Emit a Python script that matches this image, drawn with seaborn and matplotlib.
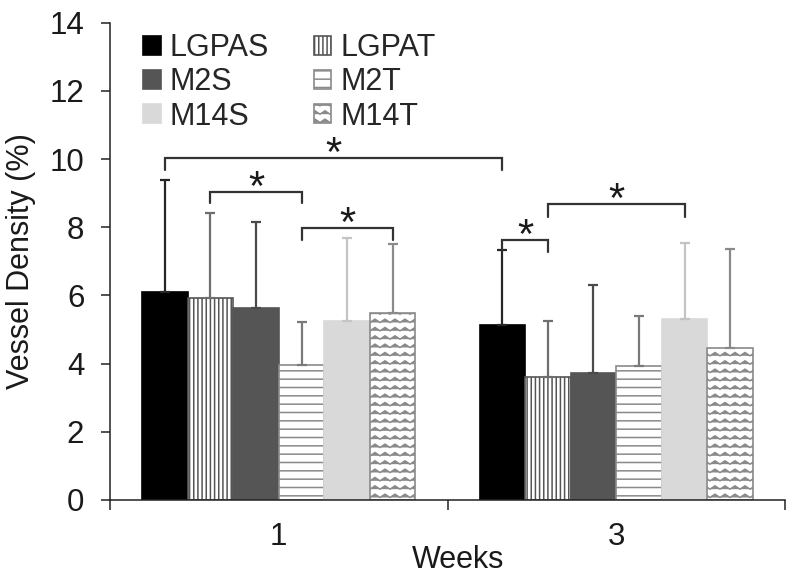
import warnings

import numpy as np
import pandas as pd
import matplotlib
matplotlib.use("Agg")
import matplotlib.pyplot as plt
import matplotlib.hatch as mhatch
from matplotlib.patches import Patch
from matplotlib.path import Path
import seaborn as sns

warnings.filterwarnings("ignore", message=".*hatch must consist.*")

# --- data ---
weeks = ["1", "3"]
groups = ["LGPAS", "LGPAT", "M2S", "M2T", "M14S", "M14T"]
mean_wk1 = [6.10, 5.92, 5.62, 3.96, 5.25, 5.48]
mean_wk3 = [5.13, 3.62, 3.73, 3.93, 5.30, 4.45]
sd_wk1 = [3.29, 2.51, 2.53, 1.27, 2.43, 2.03]
sd_wk3 = [2.20, 1.64, 2.58, 1.48, 2.25, 2.90]

# significance brackets: (week a, group a, week b, group b, height, left drop, right drop)
brackets = [
    ("1", "LGPAS", "3", "LGPAS", 10.02, 9.68, 9.68),
    ("1", "LGPAT", "1", "M2T", 9.03, 8.70, 8.70),
    ("1", "M2T", "1", "M14T", 7.97, 7.63, 7.63),
    ("3", "LGPAS", "3", "LGPAT", 7.63, 7.33, 7.28),
    ("3", "LGPAT", "3", "M14S", 8.67, 8.29, 8.29),
]

# --- styles ---
fills = {"LGPAS": "#000000", "LGPAT": "#ffffff", "M2S": "#555555",
         "M2T": "#ffffff", "M14S": "#d9d9d9", "M14T": "#ffffff"}
edges = {"LGPAS": "#000000", "LGPAT": "#555555", "M2S": "#555555",
         "M2T": "#8a8a8a", "M14S": "#d9d9d9", "M14T": "#8a8a8a"}
hatches = {"LGPAS": None, "LGPAT": "||||", "M2S": None,
           "M2T": "--", "M14S": None, "M14T": "zz"}
err_colors = {"LGPAS": "#262626", "LGPAT": "#6e6e6e", "M2S": "#4a4a4a",
              "M2T": "#7a7a7a", "M14S": "#c4c4c4", "M14T": "#8a8a8a"}


class ZigzagHatch(mhatch.HatchPatternBase):
    """Rows of zigzag lines, one row per 'z' times density."""

    def __init__(self, hatch, density):
        self.num_rows = int(hatch.count("z") * density)
        self.num_points = 21
        self.num_vertices = self.num_rows * self.num_points

    def set_vertices_and_codes(self, vertices, codes):
        xs = np.linspace(0.0, 1.0, self.num_points)
        step = 1.0 / self.num_rows
        wiggle = np.where(np.arange(self.num_points) % 2 == 0, -0.2, 0.2) * step
        for i in range(self.num_rows):
            sl = slice(i * self.num_points, (i + 1) * self.num_points)
            vertices[sl, 0] = xs
            vertices[sl, 1] = (i + 0.5) * step + wiggle
            codes[sl] = Path.LINETO
            codes[i * self.num_points] = Path.MOVETO


mhatch._hatch_types.append(ZigzagHatch)

sns.set_style("white")
plt.rcParams["font.family"] = ["Liberation Sans", "DejaVu Sans"]
plt.rcParams["hatch.linewidth"] = 1.1
text_color = "#1a1a1a"

df = pd.DataFrame({
    "week": np.repeat(weeks, len(groups)),
    "group": groups * len(weeks),
    "density": mean_wk1 + mean_wk3,
    "sd": sd_wk1 + sd_wk3,
})

fig = plt.figure(figsize=(8, 5.82), dpi=100)
ax = fig.add_axes([0.1375, 0.1409, 0.84375, 0.8201])

sns.barplot(data=df, x="week", y="density", hue="group", hue_order=groups,
            order=weeks, palette=fills, width=0.81, errorbar=None,
            saturation=1, legend=False, ax=ax)

# style bars and add upper error bars
centers = {}
for group, container in zip(groups, ax.containers):
    sub = df[df["group"] == group].set_index("week").loc[weeks]
    xs = []
    for bar in container:
        bar.set_facecolor(fills[group])
        bar.set_edgecolor(edges[group])
        bar.set_linewidth(1.2)
        if hatches[group]:
            bar.set_hatch(hatches[group])
        xs.append(bar.get_x() + bar.get_width() / 2)
    for w, x in zip(weeks, xs):
        centers[(w, group)] = x
    ax.errorbar(xs, sub["density"], yerr=[np.zeros(len(xs)), sub["sd"]],
                fmt="none", ecolor=err_colors[group], elinewidth=1.6,
                capsize=3.6, capthick=1.6, zorder=1)

# significance brackets
for wa, ga, wb, gb, h, da, db in brackets:
    xa, xb = centers[(wa, ga)], centers[(wb, gb)]
    ax.plot([xa, xa, xb, xb], [da, h, h, db], color="#333333", lw=1.6,
            solid_joinstyle="miter", zorder=3)
    ax.annotate("*", xy=((xa + xb) / 2, h), xytext=(0, -12),
                textcoords="offset points", ha="center", va="bottom",
                fontsize=30, color=text_color)

# axes
ax.set_ylim(0, 14)
ax.set_xlim(-0.5, 1.5)
ax.set_yticks(range(0, 15, 2))
ax.set_xticks([0, 1])
ax.set_xticklabels(weeks)
ax.set_xticks([-0.5, 0.5, 1.5], minor=True)
ax.tick_params(axis="y", direction="out", length=6.5, width=1.1,
               pad=12, labelsize=22.5, colors="#222222", labelcolor=text_color, left=True)
ax.tick_params(axis="x", which="major", length=0, pad=16, labelsize=22.5,
               labelcolor=text_color, bottom=True)
ax.tick_params(axis="x", which="minor", direction="out", length=7, width=1.1,
               color="#222222", bottom=True)
sns.despine(ax=ax)
for side in ["left", "bottom"]:
    ax.spines[side].set_color("#222222")
    ax.spines[side].set_linewidth(1.1)

ax.set_ylabel("Vessel Density (%)", fontsize=22, color=text_color)
ax.yaxis.set_label_coords(-0.11, 0.5)
ax.set_xlabel("Weeks", fontsize=22, color=text_color)
ax.xaxis.set_label_coords(0.516, -0.094)

# legend, filled column by column
legend_order = ["LGPAS", "M2S", "M14S", "LGPAT", "M2T", "M14T"]
handles = [Patch(facecolor=fills[g], edgecolor=edges[g], hatch=hatches[g],
                 linewidth=1.2, label=g) for g in legend_order]
ax.legend(handles=handles, ncol=2, loc="upper left",
          bbox_to_anchor=(143 / 800, 1 - 33 / 582), bbox_transform=fig.transFigure,
          frameon=False, fontsize=22, handlelength=0.58, handleheight=0.58,
          handletextpad=0.3, labelspacing=0.14, columnspacing=1.45,
          borderpad=0, borderaxespad=0)

fig.savefig("out.png", dpi=100)
